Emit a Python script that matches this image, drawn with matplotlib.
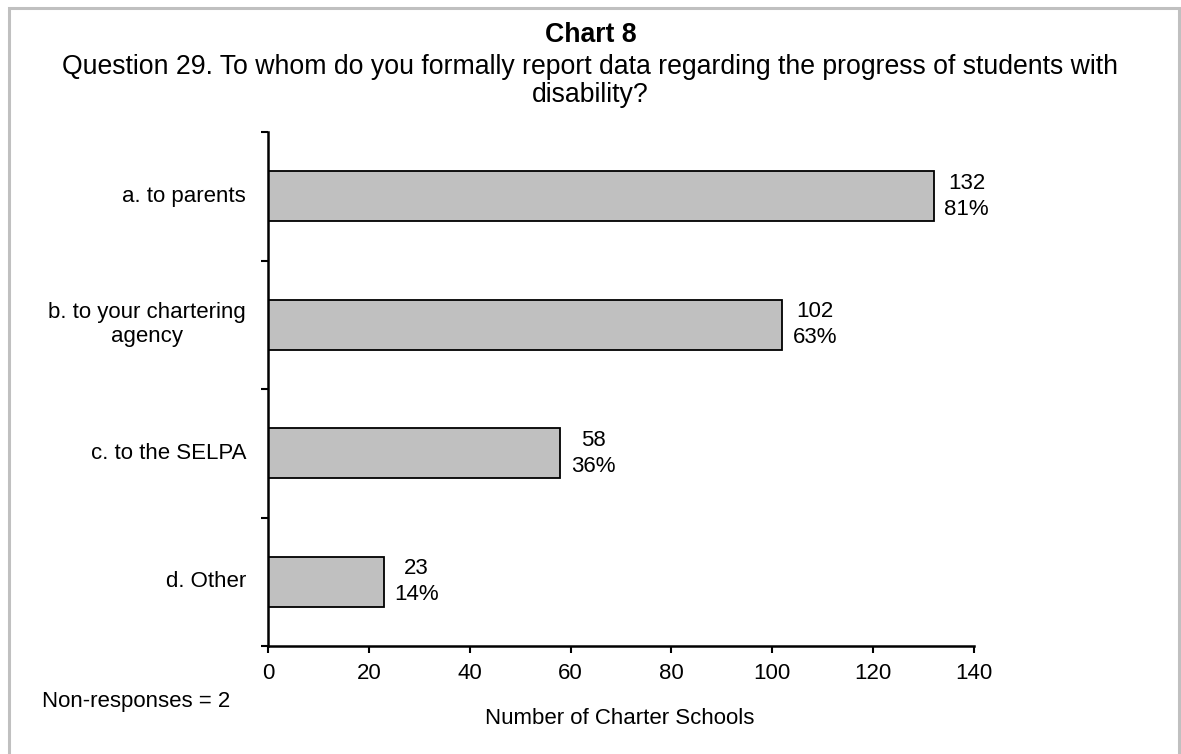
import matplotlib.pyplot as plt
from matplotlib.patches import Rectangle

plt.rcParams['font.family'] = ['Liberation Sans', 'DejaVu Sans']

# data
categories = ["a. to parents", "b. to your chartering\nagency", "c. to the SELPA", "d. Other"]
counts = [132, 102, 58, 23]
percents = ["81%", "63%", "36%", "14%"]
xticks = [0, 20, 40, 60, 80, 100, 120, 140]

fig = plt.figure(figsize=(11.81, 7.54), dpi=100)

# light gray frame around the chart
fig.patches.append(Rectangle((9 / 1181, -0.01), 1170 / 1181, 1 - 8 / 754 + 0.01,
                             transform=fig.transFigure, fill=False,
                             edgecolor="#c0c0c0", linewidth=2.2))

ax = fig.add_axes([268 / 1181, 108 / 754, 706 / 1181, 514 / 754])

pos = list(range(len(categories)))[::-1]
ax.barh(pos, counts, height=0.39, color="#c0c0c0", edgecolor="black", linewidth=1.3)

# count and percent next to each bar
for p, c, pc in zip(pos, counts, percents):
    ax.annotate(f"{c}\n{pc}", xy=(c, p), xytext=(7.5, 0), textcoords="offset points",
                ha="left", va="center", multialignment="center", fontsize=16,
                linespacing=1.3)

ax.set_xlim(0, 140)
ax.set_ylim(-0.5, len(categories) - 0.5)
ax.set_xticks(xticks)
ax.set_yticks([-0.5, 0.5, 1.5, 2.5, 3.5])
ax.set_yticklabels([])
ax.tick_params(axis="y", length=5, width=1.5, direction="out")
ax.tick_params(axis="x", length=5, width=1.5, direction="out", labelsize=16, pad=7)
for p, lab in zip(pos, categories):
    ax.text(-0.031, p, lab, transform=ax.get_yaxis_transform(), ha="right", va="center",
            multialignment="center", fontsize=16, linespacing=1.2)

for s in ["top", "right"]:
    ax.spines[s].set_visible(False)
for s in ["left", "bottom"]:
    ax.spines[s].set_linewidth(1.8)

fig.text(0.5, 1 - 35 / 754, "Chart 8", ha="center", va="center", fontsize=19.2, fontweight="bold")
fig.text(0.5, 1 - 81 / 754,
         "Question 29. To whom do you formally report data regarding the progress of students with\ndisability?",
         ha="center", va="center", fontsize=19.2, linespacing=1.15)
fig.text(42 / 1181, 1 - 702 / 754, "Non-responses = 2", ha="left", va="center", fontsize=16)
fig.text(620 / 1181, 1 - 718 / 754, "Number of Charter Schools", ha="center", va="center", fontsize=16)

fig.savefig("out.png", dpi=100)
